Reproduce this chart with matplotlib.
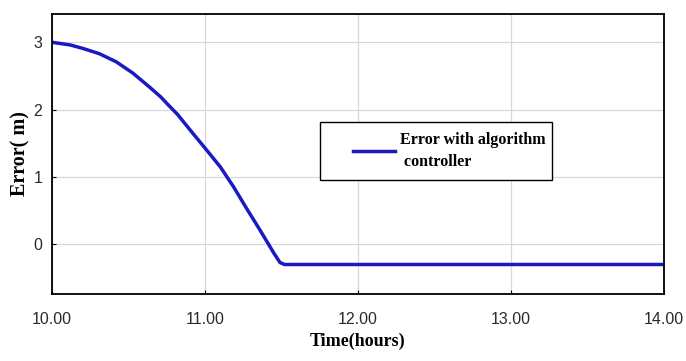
import matplotlib.pyplot as plt
from matplotlib.patches import Rectangle

# data
time_hours = [10.0, 10.12, 10.20, 10.31, 10.42, 10.53, 10.64, 10.71, 10.76, 10.82,
              10.92, 11.0, 11.10, 11.185, 11.27, 11.36, 11.45, 11.49, 11.52, 12.0, 13.0, 14.0]
error_m = [3.0, 2.96, 2.91, 2.83, 2.71, 2.54, 2.33, 2.19, 2.07, 1.93,
           1.65, 1.43, 1.15, 0.86, 0.54, 0.21, -0.13, -0.27, -0.30, -0.30, -0.30, -0.30]
x_ticks = [10, 11, 12, 13, 14]
x_labels = ['10.00', '11.00', '12.00', '13.00', '14.00']
y_ticks = [0, 1, 2, 3]

fig = plt.figure(figsize=(6.86, 3.61), dpi=100)
ax = fig.add_axes([0.0758, 0.1856, 0.892, 0.7756])

ax.plot(time_hours, error_m, color='#1a1ac0', linewidth=2.5,
        label='Error with algorithm\n controller')

ax.set_xlim(10, 14)
ax.set_ylim(-0.738, 3.42)
ax.set_xticks(x_ticks)
ax.set_xticklabels(x_labels)
ax.set_yticks(y_ticks)
ax.grid(True, color='#d8d8d8', linewidth=0.9)
ax.tick_params(direction='in', length=3, labelsize=11.5, colors='black')
ax.tick_params(axis='x', pad=13)
ax.tick_params(axis='y', pad=7)
for lab in ax.get_xticklabels() + ax.get_yticklabels():
    lab.set_fontfamily('Liberation Sans')
    lab.set_color('#2a2a2a')
for s in ax.spines.values():
    s.set_linewidth(1.3)

serif = {'family': 'Liberation Serif', 'weight': 'bold'}
ax.set_xlabel('Time(hours)', fontdict=serif, fontsize=13, labelpad=4)
ax.set_ylabel('Error( m)', fontdict=serif, fontsize=14.5, labelpad=2)

# legend box drawn separately so the padding can match the original
ax.add_patch(Rectangle((0.438, 0.407), 0.379, 0.207, transform=ax.transAxes,
                       facecolor='white', edgecolor='black', linewidth=1.0, zorder=4))
leg = ax.legend(loc='center left', bbox_to_anchor=(0.492, 0.511), frameon=False,
                handlelength=2.6, borderpad=0, borderaxespad=0, handletextpad=0.35,
                prop={'family': 'Liberation Serif', 'weight': 'bold', 'size': 11.5})
leg.set_zorder(5)
for t in leg.get_texts():
    t.set_linespacing(1.5)

fig.savefig('out.png', dpi=100)
